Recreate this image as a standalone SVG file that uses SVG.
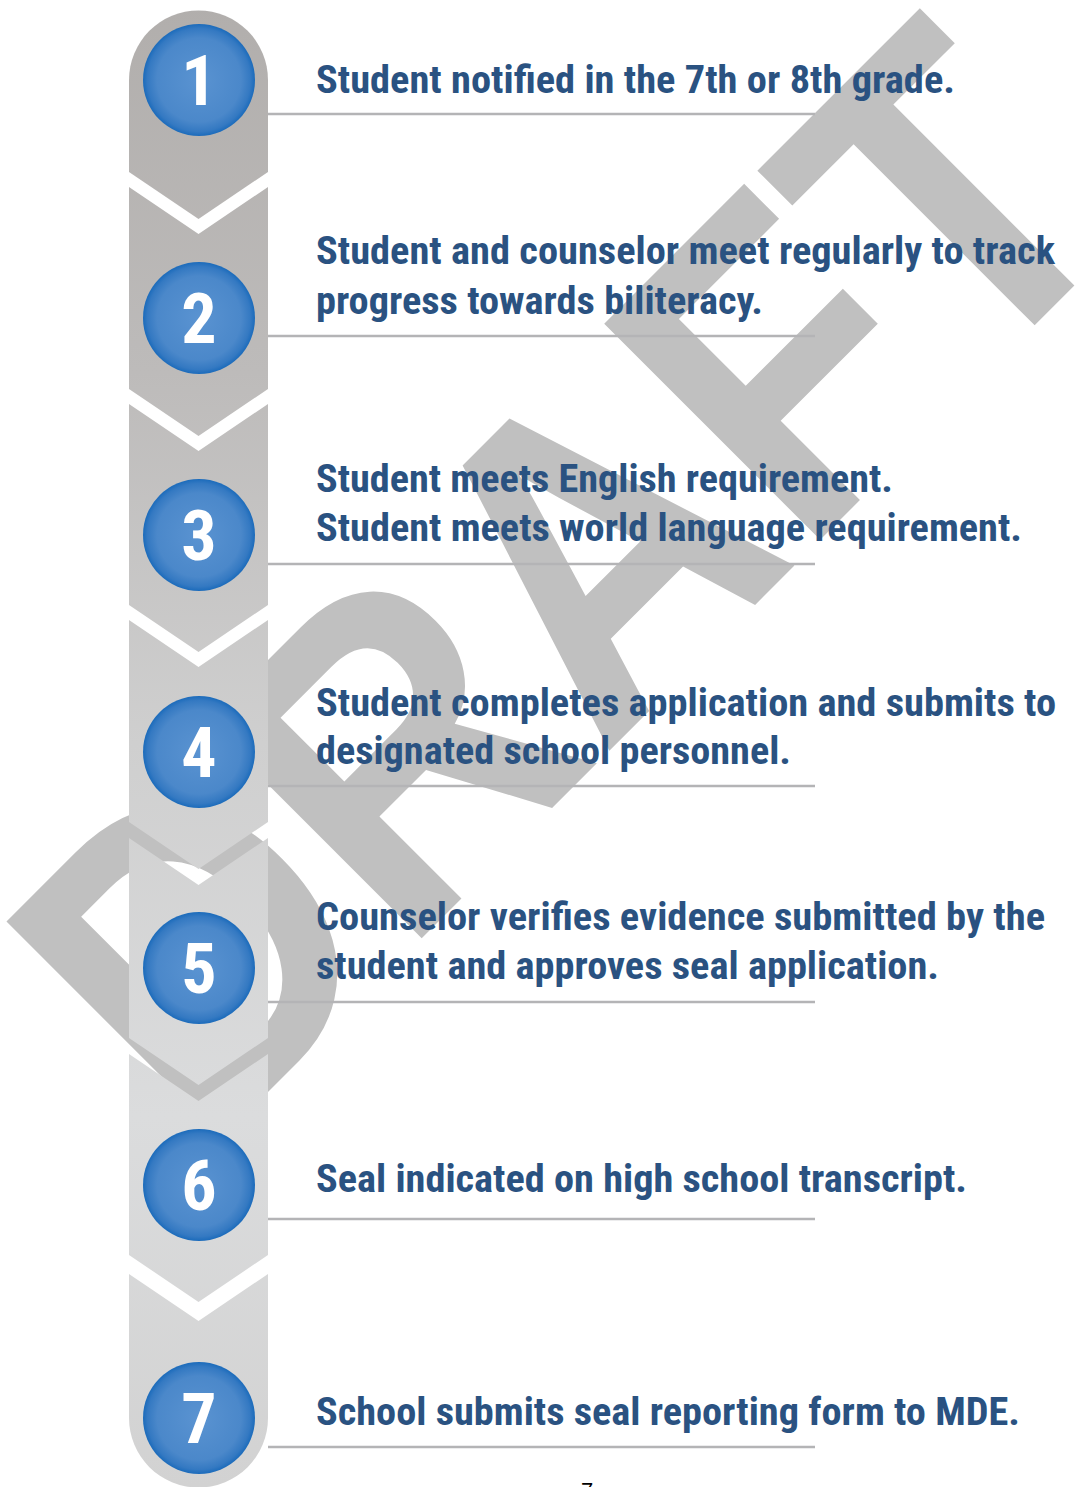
<svg xmlns="http://www.w3.org/2000/svg" width="1076" height="1487" viewBox="0 0 1076 1487">
<defs>
<linearGradient id="col" gradientUnits="userSpaceOnUse" x1="0" y1="0" x2="0" y2="1487">
<stop offset="0" stop-color="#b1aeac"/>
<stop offset="0.25" stop-color="#bdbbba"/>
<stop offset="0.5" stop-color="#cfcfcf"/>
<stop offset="0.75" stop-color="#dbdcdd"/>
<stop offset="1" stop-color="#d2d2d2"/>
</linearGradient>
<radialGradient id="ball" cx="0.5" cy="0.5" r="0.5">
<stop offset="0" stop-color="#5a93d1"/>
<stop offset="0.75" stop-color="#4b88ca"/>
<stop offset="0.92" stop-color="#3479c2"/>
<stop offset="1" stop-color="#1b6bbb"/>
</radialGradient>
</defs>
<style>
.seg{fill:url(#col);}
.ball{fill:url(#ball);}
.num{font-family:"Roboto Condensed","Roboto","Liberation Sans",sans-serif;font-weight:700;font-size:70px;fill:#ffffff;text-anchor:middle;}
.t{font-family:"Roboto Condensed","Roboto","Liberation Sans",sans-serif;font-weight:700;font-size:38px;fill:#2a5281;}
.rule{stroke:#b4b4b6;stroke-width:2.5;fill:none;}
.wm{font-family:"Liberation Sans",Arial,sans-serif;font-weight:700;font-size:444px;fill:#c0c0c0;}
</style>
<rect width="1076" height="1487" fill="#ffffff"/>
<text class="wm" transform="translate(204,1156) rotate(-45)" textLength="1322" lengthAdjust="spacingAndGlyphs">DRAFT</text>
<g id="column">
<path class="seg" d="M129,80 A69.5,69.5 0 0 1 268,80 L268,172 L198.5,219 L129,172 Z"/>
<path class="seg" d="M129,187 L198.5,234 L268,187 L268,389 L198.5,436 L129,389 Z"/>
<path class="seg" d="M129,404 L198.5,451 L268,404 L268,605 L198.5,652 L129,605 Z"/>
<path class="seg" d="M129,620 L198.5,667 L268,620 L268,822 L198.5,869 L129,822 Z"/>
<path class="seg" d="M129,838 L198.5,885 L268,838 L268,1038 L198.5,1085 L129,1038 Z"/>
<path class="seg" d="M129,1054 L198.5,1101 L268,1054 L268,1255 L198.5,1302 L129,1255 Z"/>
<path class="seg" d="M129,1274 L198.5,1321 L268,1274 L268,1418 A69.5,69.5 0 0 1 129,1418 Z"/>
</g>
<g id="connectors">
<line class="rule" x1="268" y1="114" x2="815" y2="114"/>
<line class="rule" x1="268" y1="336" x2="815" y2="336"/>
<line class="rule" x1="268" y1="564" x2="815" y2="564"/>
<line class="rule" x1="268" y1="786" x2="815" y2="786"/>
<line class="rule" x1="268" y1="1002" x2="815" y2="1002"/>
<line class="rule" x1="268" y1="1219" x2="815" y2="1219"/>
<line class="rule" x1="268" y1="1447" x2="815" y2="1447"/>
</g>
<g id="step1">
<circle class="ball" cx="199" cy="80" r="56"/>
<text class="num" x="199" y="105">1</text>
<text class="t" x="316" y="93" textLength="639" lengthAdjust="spacingAndGlyphs">Student notified in the 7th or 8th grade.</text>
</g>
<g id="step2">
<circle class="ball" cx="199" cy="318" r="56"/>
<text class="num" x="199" y="343">2</text>
<text class="t" x="316" y="264" textLength="739" lengthAdjust="spacingAndGlyphs">Student and counselor meet regularly to track</text>
<text class="t" x="316" y="314" textLength="447" lengthAdjust="spacingAndGlyphs">progress towards biliteracy.</text>
</g>
<g id="step3">
<circle class="ball" cx="199" cy="535" r="56"/>
<text class="num" x="199" y="560">3</text>
<text class="t" x="316" y="492" textLength="577" lengthAdjust="spacingAndGlyphs">Student meets English requirement.</text>
<text class="t" x="316" y="541" textLength="706" lengthAdjust="spacingAndGlyphs">Student meets world language requirement.</text>
</g>
<g id="step4">
<circle class="ball" cx="199" cy="752" r="56"/>
<text class="num" x="199" y="777">4</text>
<text class="t" x="316" y="716" textLength="740" lengthAdjust="spacingAndGlyphs">Student completes application and submits to</text>
<text class="t" x="316" y="764" textLength="475" lengthAdjust="spacingAndGlyphs">designated school personnel.</text>
</g>
<g id="step5">
<circle class="ball" cx="199" cy="968" r="56"/>
<text class="num" x="199" y="993">5</text>
<text class="t" x="316" y="930" textLength="729" lengthAdjust="spacingAndGlyphs">Counselor verifies evidence submitted by the</text>
<text class="t" x="316" y="979" textLength="623" lengthAdjust="spacingAndGlyphs">student and approves seal application.</text>
</g>
<g id="step6">
<circle class="ball" cx="199" cy="1185" r="56"/>
<text class="num" x="199" y="1210">6</text>
<text class="t" x="316" y="1192" textLength="651" lengthAdjust="spacingAndGlyphs">Seal indicated on high school transcript.</text>
</g>
<g id="step7">
<circle class="ball" cx="199" cy="1418" r="56"/>
<text class="num" x="199" y="1443">7</text>
<text class="t" x="316" y="1425" textLength="704" lengthAdjust="spacingAndGlyphs">School submits seal reporting form to MDE.</text>
</g>
<text x="581" y="1498" font-family="Liberation Sans,Arial,sans-serif" font-size="22" fill="#000000">7</text>
</svg>
